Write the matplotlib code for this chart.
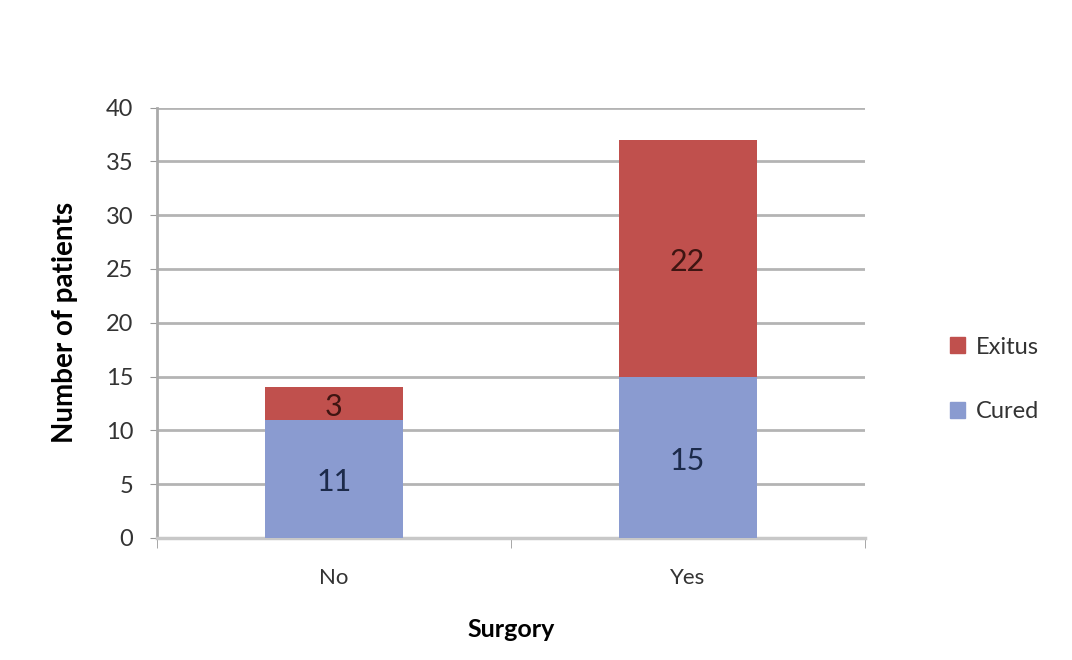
import matplotlib
matplotlib.use("Agg")
import matplotlib.pyplot as plt
from matplotlib.patches import Patch

categorie = ["No", "Yes"]
cured = [11, 15]
exitus = [3, 22]
yticks = [0, 5, 10, 15, 20, 25, 30, 35, 40]

BLU = "#8a9bd0"
ROSSO = "#c0504d"
GRIGIO = "#b4b4b4"

plt.rcParams["font.family"] = ["Lato", "DejaVu Sans"]

fig = plt.figure(figsize=(10.72, 6.6), dpi=100)
ax = fig.add_axes([0.1465, 0.185, 0.660, 0.652])

x = range(len(categorie))
b1 = ax.bar(x, cured, width=0.39, color=BLU, zorder=3)
b2 = ax.bar(x, exitus, width=0.39, bottom=cured, color=ROSSO, zorder=3)

for barre, valori, basi, col in [(b1, cured, [0, 0], "#1c2a4a"),
                                 (b2, exitus, cured, "#3f1512")]:
    for r, v, b in zip(barre, valori, basi):
        ax.text(r.get_x() + r.get_width() / 2, b + v / 2 - 0.35, str(v),
                ha="center", va="center", fontsize=22, color=col, zorder=4)

ax.set_xlim(-0.5, 1.5)
ax.set_ylim(0, 40)
ax.set_yticks(yticks)
ax.set_yticklabels([str(t) for t in yticks], fontsize=17, color="#333333")
ax.set_xticks(list(x))
ax.set_xticklabels(categorie, fontsize=16, color="#333333")
ax.tick_params(axis="x", length=0, pad=22)
ax.tick_params(axis="y", length=5, color="#999999", pad=12)
ax.set_xticks([-0.5, 0.5, 1.5], minor=True)
ax.tick_params(axis="x", which="minor", length=7, color="#999999", direction="out")

ax.grid(axis="y", color=GRIGIO, linewidth=2, zorder=0)
for s in ["top", "right"]:
    ax.spines[s].set_visible(False)
ax.spines["left"].set_color("#aaaaaa")
ax.spines["left"].set_linewidth(2)
ax.spines["bottom"].set_color("#c8c8c8")
ax.spines["bottom"].set_linewidth(2.5)

ax.set_ylabel("Number of patients", fontsize=20, fontweight="bold", labelpad=20)
ax.set_xlabel("Surgory", fontsize=18, fontweight="bold", labelpad=21)

maniglie = [Patch(color=ROSSO, label="Exitus"), Patch(color=BLU, label="Cured")]
fig.legend(handles=maniglie, loc="center left", bbox_to_anchor=(0.866, 0.425),
           frameon=False, fontsize=17, handlelength=0.65, handleheight=0.65,
           handletextpad=0.45, labelspacing=1.85, labelcolor="#333333")

fig.savefig("out.png", dpi=100)
